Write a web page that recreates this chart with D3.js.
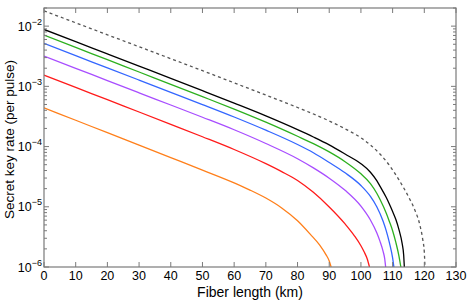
<!DOCTYPE html>
<html><head><meta charset="utf-8">
<script src="https://cdn.jsdelivr.net/npm/d3@7"></script>
<style>body{margin:0;background:#fff}svg{display:block}text{font-family:"Liberation Sans",Arial,sans-serif}</style>
</head><body><svg id="c" width="469" height="304"></svg>
<script>
// Fiber length (km) grids and log10 of the secret key rate (per pulse)
const xTicks = [0,10,20,30,40,50,60,70,80,90,100,110,120,130];
const yTickExponents = [-6,-5,-4,-3,-2];

const lenDashed = [0,10,20,30,40,50,60,70,80,90,95,100,103,106,109,112,115,117,118.5,119.5,120,120.2];
const logRateDashed = [-1.746,-1.945,-2.144,-2.342,-2.541,-2.74,-2.942,-3.145,-3.351,-3.575,-3.705,-3.854,-3.974,-4.123,-4.313,-4.553,-4.832,-5.052,-5.282,-5.542,-5.752,-6.0];

const lenBlack = [0,10,20,30,40,50,60,70,80,85,90,95,100,103,105,106,108,109,110,111,112,113,113.5,113.7];
const logRateBlack = [-2.055,-2.258,-2.461,-2.664,-2.867,-3.072,-3.279,-3.491,-3.719,-3.841,-3.972,-4.124,-4.285,-4.426,-4.567,-4.657,-4.847,-4.958,-5.078,-5.208,-5.379,-5.609,-5.809,-6.0];

const lenGreen = [0,10,20,30,40,50,60,70,80,85,90,95,100,103,105,106,108,109,110,111,112,112.6];
const logRateGreen = [-2.149,-2.353,-2.558,-2.762,-2.967,-3.171,-3.378,-3.595,-3.829,-3.951,-4.089,-4.251,-4.453,-4.614,-4.775,-4.876,-5.107,-5.247,-5.397,-5.588,-5.818,-6.0];

const lenBlue = [0,10,20,30,40,50,60,70,80,85,90,95,100,103,105,107,108,109,110,110.4];
const logRateBlue = [-2.287,-2.49,-2.693,-2.896,-3.099,-3.302,-3.509,-3.728,-3.966,-4.103,-4.264,-4.436,-4.647,-4.828,-4.999,-5.239,-5.399,-5.6,-5.85,-6.0];

const lenPurple = [0,10,20,30,40,50,60,70,80,85,90,95,100,103,105,106,107,107.5,107.8];
const logRatePurple = [-2.498,-2.701,-2.904,-3.107,-3.31,-3.513,-3.721,-3.949,-4.202,-4.354,-4.525,-4.727,-4.99,-5.22,-5.43,-5.57,-5.74,-5.86,-6.0];

const lenRed = [0,10,20,30,40,50,60,70,75,80,85,90,95,98,100,101,102,102.7];
const logRateRed = [-2.813,-3.017,-3.222,-3.426,-3.631,-3.837,-4.049,-4.284,-4.416,-4.563,-4.76,-5.003,-5.285,-5.486,-5.647,-5.747,-5.868,-6.0];

const lenOrange = [0,10,20,30,40,50,60,65,70,75,80,84,87,89,90,90.6];
const logRateOrange = [-3.356,-3.563,-3.77,-3.977,-4.184,-4.391,-4.603,-4.722,-4.855,-5.019,-5.232,-5.455,-5.637,-5.798,-5.899,-6.0];

const series = [
  {len: lenOrange, lr: logRateOrange, color: "#ff7f1a", dash: null},
  {len: lenRed, lr: logRateRed, color: "#ff1a1a", dash: null},
  {len: lenPurple, lr: logRatePurple, color: "#a84dff", dash: null},
  {len: lenBlue, lr: logRateBlue, color: "#3366ff", dash: null},
  {len: lenGreen, lr: logRateGreen, color: "#2db01e", dash: null},
  {len: lenBlack, lr: logRateBlack, color: "#000000", dash: null},
  {len: lenDashed, lr: logRateDashed, color: "#555555", dash: "3,3"}
];

const L = 44, R = 456, T = 8, B = 267;
const svg = d3.select("#c");
const x = d3.scaleLinear().domain([0,130]).range([L,R]);
const y = d3.scaleLog().domain([1e-6,0.02]).range([B,T]);

svg.append("clipPath").attr("id","clip").append("rect")
  .attr("x",L).attr("y",T-1).attr("width",R-L).attr("height",B-T+1);

const line = d3.line().curve(d3.curveMonotoneX);
const g = svg.append("g").attr("clip-path","url(#clip)");
series.forEach(s => {
  const pts = s.len.map((l,i) => [x(l), y(Math.pow(10, s.lr[i]))]);
  g.append("path").attr("d", line(pts)).attr("fill","none")
    .attr("stroke", s.color).attr("stroke-width",1.3)
    .attr("stroke-dasharray", s.dash);
});

// frame
const axc = "#7a7a7a";
svg.append("rect").attr("x",L).attr("y",T).attr("width",R-L).attr("height",B-T)
  .attr("fill","none").attr("stroke",axc).attr("stroke-width",1.2);

// ticks (inward, on all four sides)
const ax = svg.append("g").attr("stroke",axc).attr("stroke-width",1);
xTicks.forEach(t => {
  ax.append("line").attr("x1",x(t)).attr("x2",x(t)).attr("y1",B).attr("y2",B-5);
  ax.append("line").attr("x1",x(t)).attr("x2",x(t)).attr("y1",T).attr("y2",T+5);
});
yTickExponents.forEach(e => {
  const v = Math.pow(10,e);
  ax.append("line").attr("x1",L).attr("x2",L+5).attr("y1",y(v)).attr("y2",y(v));
  ax.append("line").attr("x1",R).attr("x2",R-5).attr("y1",y(v)).attr("y2",y(v));
  for (let m=2;m<=9;m++){
    const mv = m*v;
    if (mv > 0.02) continue;
    ax.append("line").attr("x1",L).attr("x2",L+3).attr("y1",y(mv)).attr("y2",y(mv));
    ax.append("line").attr("x1",R).attr("x2",R-3).attr("y1",y(mv)).attr("y2",y(mv));
  }
});

// x tick labels
svg.append("g").selectAll("text").data(xTicks).join("text")
  .attr("x", d => x(d)).attr("y", B+13).attr("text-anchor","middle")
  .attr("font-size",12.5).attr("fill","#000").text(d => d);

// y tick labels 10^e
const yl = svg.append("g");
yTickExponents.forEach(e => {
  const t = yl.append("text").attr("x",42).attr("y",y(Math.pow(10,e))+4.5)
    .attr("text-anchor","end").attr("font-size",12.5).attr("fill","#000");
  t.append("tspan").text("10");
  t.append("tspan").attr("dy",-6).attr("font-size",9).text("\u2212"+(-e));
});

svg.append("text").attr("x",250).attr("y",296.5).attr("text-anchor","middle")
  .attr("font-size",14).text("Fiber length (km)");
svg.append("text").attr("transform","translate(14,"+((T+B)/2+2)+") rotate(-90)")
  .attr("text-anchor","middle").attr("font-size",13.5).text("Secret key rate (per pulse)");
</script></body></html>
